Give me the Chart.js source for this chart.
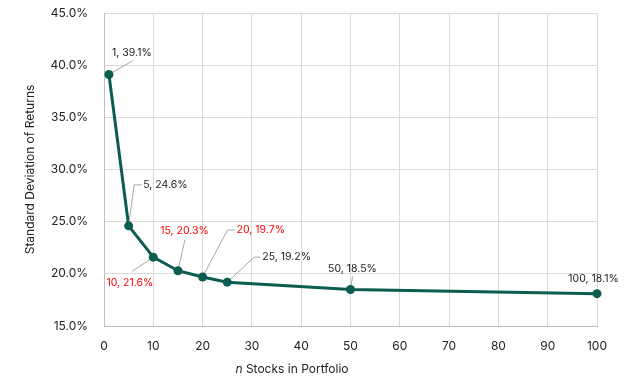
<!DOCTYPE html>
<html>
<head>
<meta charset="utf-8">
<script src="https://cdn.jsdelivr.net/npm/chart.js@4"></script>
<style>
  html, body { margin: 0; padding: 0; background: #fff; }
  #wrap { width: 624px; height: 386px; }
</style>
</head>
<body>
<div id="wrap"><canvas id="myChart"></canvas></div>
<script>
// n stocks vs standard deviation (%)
const stockCounts = [1, 5, 10, 15, 20, 25, 50, 100];
const stdDev = [39.1, 24.6, 21.6, 20.3, 19.7, 19.2, 18.5, 18.1];
const xTicks = [0, 10, 20, 30, 40, 50, 60, 70, 80, 90, 100];
const yTicks = [15, 20, 25, 30, 35, 40, 45];

// label placement (pixels relative to point) - styling only
const labelStyle = [
    { dx: 23, dy: -22, align: "center", color: "#222", leader: [[0, 0], [24, -14]] },
    { dx: 14.5, dy: -41, align: "left", color: "#222", leader: [[0, 0], [5.5, -41], [13, -41]] },
    { dx: 0, dy: 25.5, align: "right", color: "#f00", leader: [[0, 0], [-21, 14]] },
    { dx: 6.5, dy: -40, align: "center", color: "#f00", leader: [[0, 0], [7, -31]] },
    { dx: 34, dy: -47, align: "left", color: "#f00", leader: [[0, 0], [25, -47], [32, -47]] },
    { dx: 35, dy: -25, align: "left", color: "#222", leader: [[0, 0], [27, -25], [33, -25]] },
    { dx: 2, dy: -21, align: "center", color: "#222", leader: [[0, 0], [2, -13]] },
    { dx: -3.5, dy: -15, align: "center", color: "#222", leader: null },
];

const FONT = "Inter";

const pointLabels = {
    id: "pointLabels",
    afterDatasetsDraw(chart) {
        const ctx = chart.ctx;
        const meta = chart.getDatasetMeta(0);
        ctx.save();
        meta.data.forEach((pt, i) => {
            const s = labelStyle[i];
            if (s.leader) {
                ctx.strokeStyle = "#a6a6a6";
                ctx.lineWidth = 1;
                ctx.beginPath();
                s.leader.forEach((p, j) => {
                    if (j === 0) ctx.moveTo(pt.x + p[0], pt.y + p[1]);
                    else ctx.lineTo(pt.x + p[0], pt.y + p[1]);
                });
                ctx.stroke();
            }
        });
        // redraw points on top of leaders
        meta.data.forEach((pt) => {
            ctx.fillStyle = "#0d5c52";
            ctx.beginPath();
            ctx.arc(pt.x, pt.y, 4.5, 0, Math.PI * 2);
            ctx.fill();
        });
        ctx.font = "10.5px " + FONT;
        ctx.textBaseline = "middle";
        meta.data.forEach((pt, i) => {
            const s = labelStyle[i];
            ctx.fillStyle = s.color;
            ctx.textAlign = s.align;
            ctx.fillText(stockCounts[i] + ", " + stdDev[i].toFixed(1) + "%", pt.x + s.dx, pt.y + s.dy);
        });
        // x axis title with italic n
        const area = chart.chartArea;
        const y = area.bottom + 43;
        const cx = area.left + 188;
        ctx.font = "italic 12px " + FONT;
        const w1 = ctx.measureText("n").width;
        ctx.font = "12px " + FONT;
        const rest = " Stocks in Portfolio";
        const w2 = ctx.measureText(rest).width;
        const x0 = cx - (w1 + w2) / 2;
        ctx.textAlign = "left";
        ctx.fillStyle = "#222";
        ctx.font = "italic 12px " + FONT;
        ctx.fillText("n", x0, y);
        ctx.font = "12px " + FONT;
        ctx.fillText(rest, x0 + w1, y);
        ctx.restore();
    },
};

const ctx = document.getElementById("myChart").getContext("2d");
const myChart = new Chart(ctx, {
    type: "line",
    data: {
        datasets: [
            {
                data: stockCounts.map((n, i) => ({ x: n, y: stdDev[i] })),
                borderColor: "#0d5c52",
                backgroundColor: "#0d5c52",
                borderWidth: 3,
                pointRadius: 0,
                tension: 0,
            },
        ],
    },
    plugins: [pointLabels],
    options: {
        responsive: true,
        maintainAspectRatio: false,
        animation: false,
        layout: { padding: { top: 13, right: 27, bottom: 0, left: 0 } },
        plugins: {
            legend: { display: false },
            tooltip: { enabled: false },
        },
        scales: {
            x: {
                type: "linear",
                min: 0,
                max: 100,
                afterBuildTicks: (scale) => {
                    scale.ticks = xTicks.map((v) => ({ value: v }));
                },
                afterFit: (scale) => {
                    scale.height = 60;
                },
                ticks: {
                    padding: 13,
                    color: "#222",
                    font: { family: FONT, size: 12 },
                },
                grid: { color: "#d9d9d9", drawTicks: false },
                border: { color: "#bfbfbf" },
                title: { display: false },
            },
            y: {
                min: 15,
                max: 45,
                afterBuildTicks: (scale) => {
                    scale.ticks = yTicks.map((v) => ({ value: v }));
                },
                afterFit: (scale) => {
                    scale.width = 104;
                    scale.paddingTop = 0;
                    scale.paddingBottom = 0;
                },
                ticks: {
                    padding: 16,
                    color: "#222",
                    font: { family: FONT, size: 12 },
                    callback: (v) => v.toFixed(1) + "%",
                },
                grid: { color: "#d9d9d9", drawTicks: false },
                border: { color: "#bfbfbf" },
                title: {
                    display: true,
                    text: "Standard Deviation of Returns",
                    color: "#222",
                    font: { family: FONT, size: 12 },
                    padding: { top: 23, bottom: 0 },
                },
            },
        },
    },
});
</script>
</body>
</html>
